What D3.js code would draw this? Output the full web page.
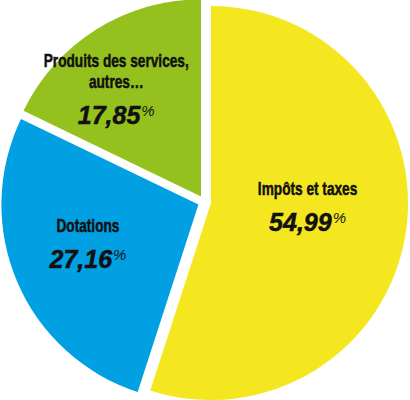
<!DOCTYPE html>
<html>
<head>
<meta charset="utf-8">
<script src="https://cdn.jsdelivr.net/npm/d3@7"></script>
<style>
  html, body { margin: 0; padding: 0; background: #fff; }
  .title { font-family: "Liberation Sans", Arial, sans-serif; font-weight: bold; font-size: 18px; fill: #111; stroke: #111; stroke-width: 0.5px; }
  .value { font-family: "Liberation Sans", Arial, sans-serif; font-weight: bold; font-style: italic; font-size: 25px; fill: #111; stroke: #111; stroke-width: 0.5px; }
  .pct { font-family: "Liberation Sans", Arial, sans-serif; font-weight: normal; font-style: italic; font-size: 15px; stroke-width: 0; }
</style>
</head>
<body>
<div class="canvas"></div>
<script>
// data
const categories = ['Impôts et taxes', 'Dotations', 'Produits des services, autres…'];
const values = [54.99, 27.16, 17.85];
const titleLines = [['Impôts et taxes'], ['Dotations'], ['Produits des services,', 'autres…']];
const colors = ['#f5e71f', '#00a0e2', '#95c11f'];

const data = categories.map((c, i) => ({ name: c, value: values[i], lines: titleLines[i] }));

const dims = { width: 410, height: 400, radius: 197 };
const cent = { x: 204.5, y: 202 };
const explode = 6.6;     // gap between slices
const labelR = 118;
// small hand nudges so labels sit like the original
const labelNudge = [[-20, -14], [-2, -6.5], [-22, -7]];
const squeeze = 0.76;    // fake a condensed face

const fr = d3.formatLocale({ decimal: ',', thousands: ' ', grouping: [3], currency: ['', ' €'] });
const fmt = fr.format('.2f');

const svg = d3.select('.canvas')
    .append('svg')
    .attr('width', dims.width)
    .attr('height', dims.height);

const graph = svg.append('g')
    .attr('transform', `translate(${cent.x},${cent.y})`);

const pie = d3.pie()
    .sort(null)
    .value(d => d.value);

const arcPath = d3.arc()
    .outerRadius(dims.radius)
    .innerRadius(0);

const labelArc = d3.arc()
    .outerRadius(labelR)
    .innerRadius(labelR);

const colorScale = d3.scaleOrdinal()
    .domain(categories)
    .range(colors);

const offset = d => {
    const mid = (d.startAngle + d.endAngle) / 2;
    return [Math.sin(mid) * explode, -Math.cos(mid) * explode];
};

const slices = graph.selectAll('g.slice')
    .data(pie(data))
    .enter()
    .append('g')
    .attr('class', 'slice')
    .attr('transform', d => `translate(${offset(d)})`);

slices.append('path')
    .attr('d', arcPath)
    .attr('fill', d => colorScale(d.data.name));

// labels
const lineH = 21, numGap = 36, capH = 12;
slices.each(function(d, i) {
    const g = d3.select(this);
    const [cx, cy] = labelArc.centroid(d);
    const x = cx + labelNudge[i][0];
    const n = d.data.lines.length;
    const blockH = (n - 1) * lineH + numGap + capH;
    const top = cy + labelNudge[i][1] - blockH / 2 + capH;

    d.data.lines.forEach((t, j) => {
        g.append('text')
            .attr('class', 'title')
            .attr('transform', `translate(${x},${top + j * lineH}) scale(${squeeze},1)`)
            .attr('text-anchor', 'middle')
            .text(t);
    });

    const v = g.append('text')
        .attr('class', 'value')
        .attr('x', x)
        .attr('y', top + (n - 1) * lineH + numGap)
        .attr('text-anchor', 'middle');
    v.append('tspan').text(fmt(d.data.value));
    v.append('tspan').attr('class', 'pct').attr('dx', 1).attr('dy', -8).text('%');
});
</script>
</body>
</html>
